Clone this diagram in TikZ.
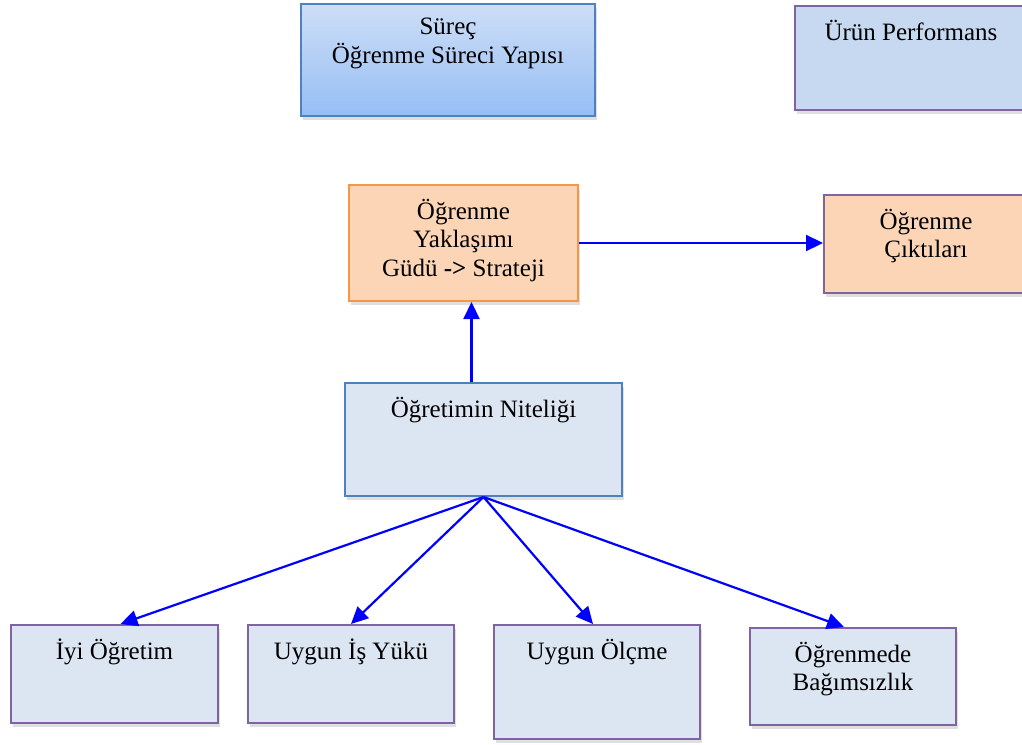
\documentclass[tikz,border=0pt]{standalone}
\usepackage{fontspec}
\setmainfont{Liberation Serif}
\usepackage{tikz}
\usetikzlibrary{positioning}
\usetikzlibrary{calc}
\usetikzlibrary{arrows.meta}
\usetikzlibrary{shadows}
\definecolor{lightblue}{RGB}{220,230,242}
\definecolor{paleblue}{RGB}{198,217,241}
\definecolor{peach}{RGB}{251,213,181}
\definecolor{purple}{RGB}{128,100,162}
\definecolor{steel}{RGB}{79,129,189}
\definecolor{orange}{RGB}{247,150,70}
\definecolor{arrowblue}{RGB}{0,0,255}

\begin{document}
\begin{tikzpicture}[x=1pt, y=-1pt, >={Triangle[length=17pt,width=16pt]}]
			\tikzstyle{place}=[draw=purple, line width=2pt, fill=lightblue, anchor=north west, inner sep=0pt,
				drop shadow={shadow xshift=2pt, shadow yshift=-4pt, opacity=0.25}]
			\tikzset{boxsize/.style 2 args={execute at begin node={\begin{minipage}[c][#2][t]{#1}\centering\fontsize{25}{28.5}\selectfont\vspace*{14pt}},
				execute at end node={\end{minipage}}}}
			\tikzstyle{link}=[->, arrowblue, line width=2.2pt]
			
			\useasboundingbox (0,0) rectangle (1022,744);
			
			\draw node at (300, 3) [place, draw=steel, top color={rgb,255:red,206;green,222;blue,246}, bottom color={rgb,255:red,150;green,190;blue,245}, boxsize={294pt}{112pt}] (surec) {Süreç\\Öğrenme Süreci Yapısı};
			\draw node at (794, 5) [place, fill=paleblue, boxsize={232pt}{104pt}] (urun) {Ürün Performans};
			
			\draw node at (348, 184) [place, draw=orange, fill=peach, boxsize={229pt}{116pt}] (yaklasim) {Öğrenme\\Yaklaşımı\\Güdü \textbf{->} Strateji};
			\draw node at (823, 194) [place, fill=peach, boxsize={204pt}{98pt}] (cikti) {Öğrenme\\Çıktıları};
			
			\draw node at (344, 382) [place, draw=steel, boxsize={277pt}{113pt}] (nitelik) {Öğretimin Niteliği};
			
			\draw node at (10, 624) [place, boxsize={207pt}{98pt}] (iyi) {İyi Öğretim};
			\draw node at (247, 624) [place, boxsize={206pt}{98pt}] (isyuku) {Uygun İş Yükü};
			\draw node at (493, 624) [place, boxsize={206pt}{114pt}] (olcme) {Uygun Ölçme};
			\draw node at (749, 627) [place, boxsize={206pt}{97pt}] (bagimsiz) {Öğrenmede\\Bağımsızlık};
			
			\draw [link] (yaklasim.east) to (yaklasim.east -| cikti.west);
			\draw [link] ([xshift=8pt]yaklasim.south |- nitelik.north) to ([xshift=8pt]yaklasim.south);
			
			\draw [link] (nitelik.south) to ([xshift=6pt]iyi.north);
			\draw [link] (nitelik.south) to (isyuku.north);
			\draw [link] (nitelik.south) to ([xshift=-4pt]olcme.north);
			\draw [link] (nitelik.south) to ([xshift=-9pt]bagimsiz.north);
\end{tikzpicture}
\end{document}
